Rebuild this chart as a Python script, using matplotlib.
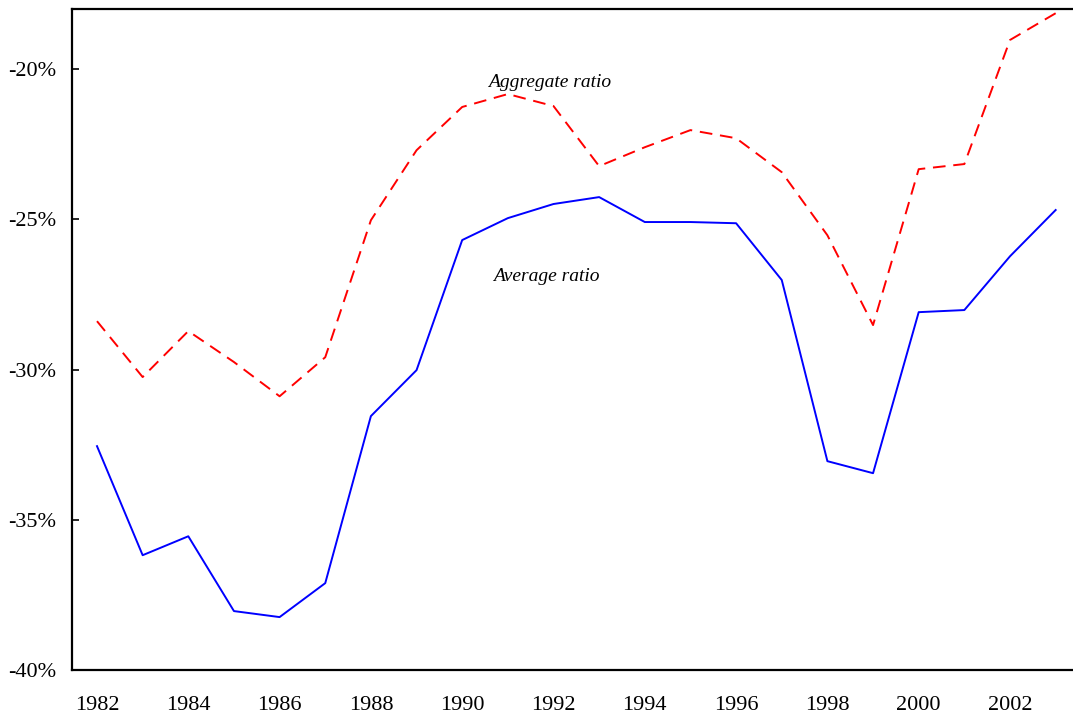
import matplotlib
matplotlib.use('Agg')
import matplotlib.pyplot as plt
from matplotlib.ticker import FuncFormatter

# Data
years = list(range(1982, 2004))
aggregate_ratio = [-28.39, -30.25, -28.72, -29.75, -30.89, -29.59, -25.03, -22.70,
                   -21.26, -20.83, -21.23, -23.23, -22.60, -22.03, -22.30, -23.43,
                   -25.53, -28.52, -23.33, -23.16, -19.03, -18.14]
average_ratio = [-32.55, -36.18, -35.55, -38.04, -38.24, -37.11, -31.55, -30.02,
                 -25.69, -24.96, -24.49, -24.26, -25.09, -25.09, -25.13, -27.02,
                 -33.05, -33.45, -28.09, -28.02, -26.23, -24.69]
x_ticks = list(range(1982, 2004, 2))
y_ticks = [-40, -35, -30, -25, -20]

plt.rcParams['font.family'] = ['Liberation Serif', 'DejaVu Serif']

fig = plt.figure(figsize=(10.73, 7.17), dpi=100)
ax = fig.add_axes([0.067, 0.0656, 0.933, 0.9218])

ax.plot(years, aggregate_ratio, color='red', lw=1.4, dashes=(6.5, 4))
ax.plot(years, average_ratio, color='blue', lw=1.4)

ax.text(1991.92, -20.43, 'Aggregate ratio', style='italic', fontsize=14, ha='center', va='center')
ax.text(1991.85, -26.89, 'Average ratio', style='italic', fontsize=14, ha='center', va='center')

ax.set_xlim(1981.45, 2003.38)
ax.set_ylim(-40, -18)
ax.set_xticks(x_ticks)
ax.set_yticks(y_ticks)
ax.yaxis.set_major_formatter(FuncFormatter(lambda v, p: f'{v:.0f}%'))

ax.tick_params(axis='x', length=0, pad=19, labelsize=16)
ax.tick_params(axis='y', direction='in', length=5, width=1.2, pad=11, labelsize=16)

ax.spines['right'].set_visible(False)
for s in ['left', 'top', 'bottom']:
    ax.spines[s].set_linewidth(1.6)

plt.savefig('out.png', dpi=100)
